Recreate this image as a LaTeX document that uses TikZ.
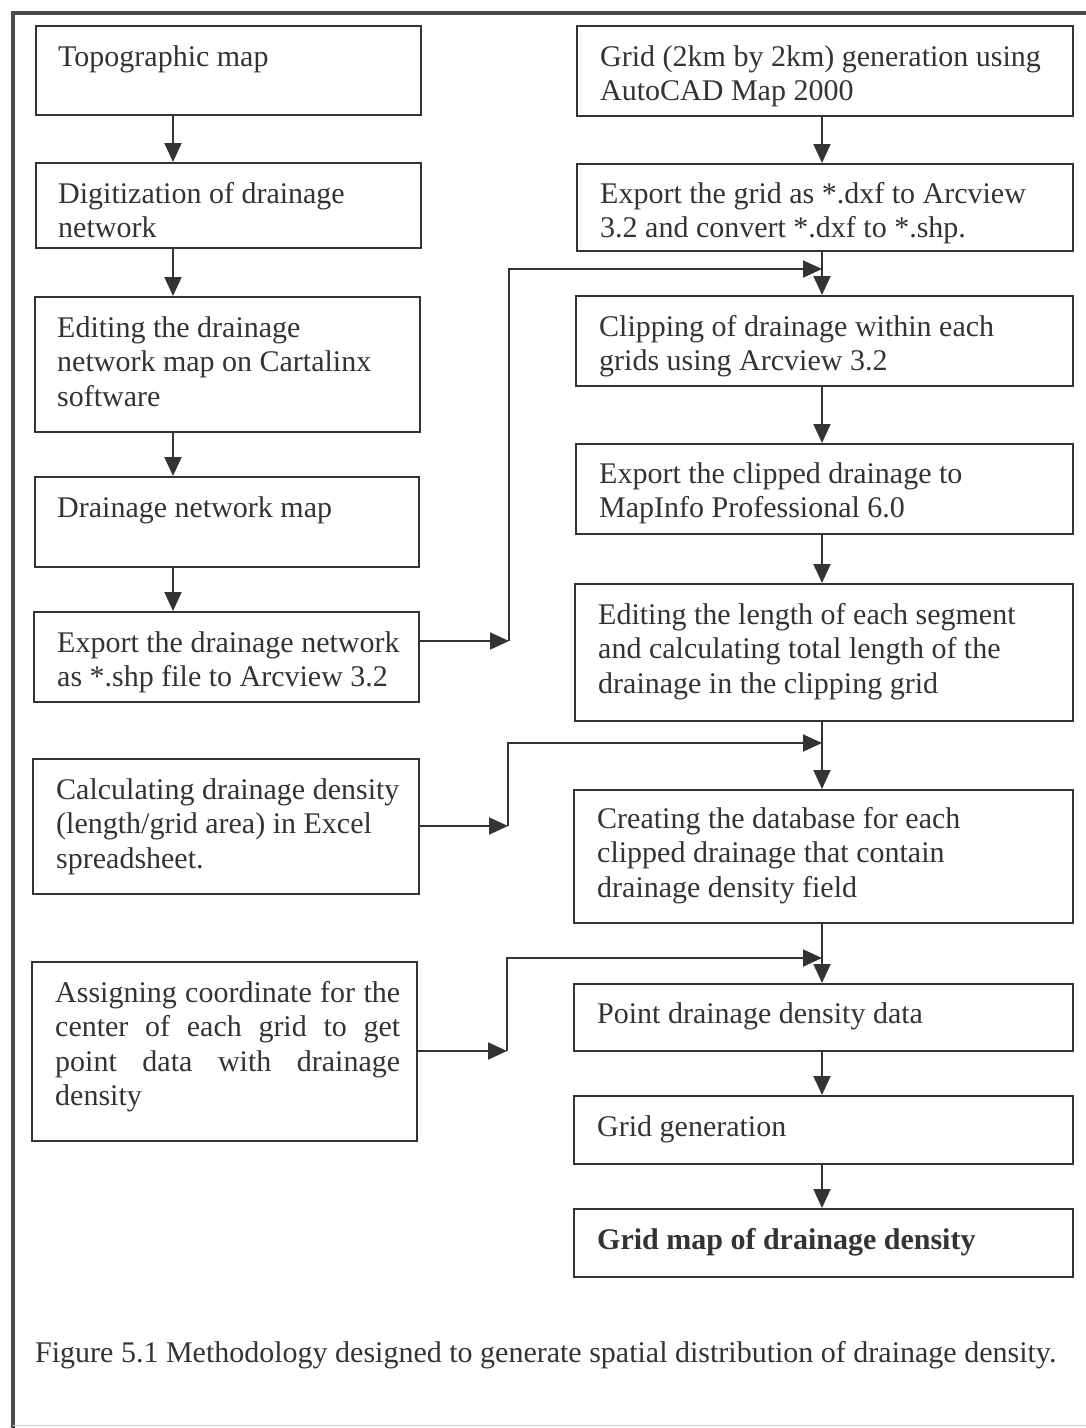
\documentclass[tikz,border=0pt]{standalone}
\usepackage{fontspec}
\setmainfont{Liberation Serif}
\usetikzlibrary{arrows.meta,calc}
\definecolor{ink}{HTML}{333333}
\definecolor{frame}{HTML}{4a4a4a}
\begin{document}
\begin{tikzpicture}[x=1pt,y=-1pt,
  box/.style={draw=ink, line width=1.9pt, rectangle, inner sep=0pt, anchor=north west},
  txt/.style={anchor=north west, inner sep=0pt, align=left, text=ink, font=\fontsize{30}{34.5}\selectfont},
  arr/.style={draw=ink, line width=1.9pt, -{Triangle[length=19pt,width=17pt]}},
  ln/.style={draw=ink, line width=1.9pt}]
\useasboundingbox (0,0) rectangle (1086,1428);
% outer frame
\draw[frame, line width=4.5pt] (13,1428) -- (13,13) -- (1086,13);
\draw[gray!40, line width=1pt] (13,1425) -- (1086,1425);

% left column boxes
\node[box, minimum width=385pt, minimum height=89pt]  (L1) at (35,25)  {};
\node[box, minimum width=385pt, minimum height=85pt]  (L2) at (35,162) {};
\node[box, minimum width=385pt, minimum height=135pt] (L3) at (34,296) {};
\node[box, minimum width=384pt, minimum height=90pt]  (L4) at (34,476) {};
\node[box, minimum width=385pt, minimum height=90pt]  (L5) at (33,611) {};
\node[box, minimum width=386pt, minimum height=135pt] (L6) at (32,758) {};
\node[box, minimum width=385pt, minimum height=179pt] (L7) at (31,961) {};

% right column boxes
\node[box, minimum width=496pt, minimum height=90pt]  (R1) at (576,25)   {};
\node[box, minimum width=496pt, minimum height=87pt]  (R2) at (576,163)  {};
\node[box, minimum width=497pt, minimum height=90pt]  (R3) at (575,295)  {};
\node[box, minimum width=497pt, minimum height=90pt]  (R4) at (575,443)  {};
\node[box, minimum width=498pt, minimum height=137pt] (R5) at (574,583)  {};
\node[box, minimum width=499pt, minimum height=133pt] (R6) at (573,789)  {};
\node[box, minimum width=499pt, minimum height=67pt]  (R7) at (573,983)  {};
\node[box, minimum width=499pt, minimum height=68pt]  (R8) at (573,1095) {};
\node[box, minimum width=499pt, minimum height=68pt]  (R9) at (573,1208) {};

% texts
\node[txt] (L1t) at ($(L1.north west)+(23,17)$) {\strut Topographic map};
\node[txt] (L2t) at ($(L2.north west)+(23,17)$) {\strut Digitization of drainage\\network};
\node[txt] (L3t) at ($(L3.north west)+(23,17)$) {\strut Editing the drainage\\network map on Cartalinx\\software};
\node[txt] (L4t) at ($(L4.north west)+(23,17)$) {\strut Drainage network map};
\node[txt] (L5t) at ($(L5.north west)+(24,17)$) {\strut Export the drainage network\\as *.shp file to Arcview 3.2};
\node[txt] (L6t) at ($(L6.north west)+(24,17)$) {\strut Calculating drainage density\\(length/grid area) in Excel\\spreadsheet.};
\node[txt] (L7t) at ($(L7.north west)+(24,17)$) {\strut\makebox[345pt][s]{Assigning coordinate for the}\\\makebox[345pt][s]{center of each grid to get}\\\makebox[345pt][s]{point data with drainage}\\density};

\node[txt] (R1t) at ($(R1.north west)+(24,17)$) {\strut Grid (2km by 2km) generation using\\AutoCAD Map 2000};
\node[txt] (R2t) at ($(R2.north west)+(24,16)$) {\strut Export the grid as *.dxf to Arcview\\3.2 and convert *.dxf to *.shp.};
\node[txt] (R3t) at ($(R3.north west)+(24,17)$) {\strut Clipping of drainage within each\\grids using Arcview 3.2};
\node[txt] (R4t) at ($(R4.north west)+(24,16)$) {\strut Export the clipped drainage to\\MapInfo Professional 6.0};
\node[txt] (R5t) at ($(R5.north west)+(24,17)$) {\strut Editing the length of each segment\\and calculating total length of the\\drainage in the clipping grid};
\node[txt] (R6t) at ($(R6.north west)+(24,15)$) {\strut Creating the database for each\\clipped drainage that contain\\drainage density field};
\node[txt] (R7t) at ($(R7.north west)+(24,16)$) {\strut Point drainage density data};
\node[txt] (R8t) at ($(R8.north west)+(24,17)$) {\strut Grid generation};
\node[txt] (R9t) at ($(R9.north west)+(24,17)$) {\strut\textbf{Grid map of drainage density}};

% caption
\node[txt, anchor=base west] (cap) at (35,1362) {Figure 5.1 Methodology designed to generate spatial distribution of drainage density.};

% arrow axes
\coordinate (ax) at (173,0);
\coordinate (bx) at (822,0);

% left column arrows
\draw[arr] (L1.south -| ax) -- (L2.north -| ax);
\draw[arr] (L2.south -| ax) -- (L3.north -| ax);
\draw[arr] (L3.south -| ax) -- (L4.north -| ax);
\draw[arr] (L4.south -| ax) -- (L5.north -| ax);

% right column arrows
\draw[arr] (R1.south -| bx) -- (R2.north -| bx);
\draw[arr] (R2.south -| bx) -- (R3.north -| bx);
\draw[arr] (R3.south -| bx) -- (R4.north -| bx);
\draw[arr] (R4.south -| bx) -- (R5.north -| bx);
\draw[arr] (R5.south -| bx) -- (R6.north -| bx);
\draw[arr] (R6.south -| bx) -- (R7.north -| bx);
\draw[arr] (R7.south -| bx) -- (R8.north -| bx);
\draw[arr] (R8.south -| bx) -- (R9.north -| bx);

% side connectors
\coordinate (j1) at (509,641);  \coordinate (k1) at (822,269);
\coordinate (j2) at (508,826);  \coordinate (k2) at (822,743);
\coordinate (j3) at (507,1051); \coordinate (k3) at (822,958);

\draw[arr] (L5.east |- j1) -- (j1);
\draw[arr] (j1) |- (k1);
\draw[arr] (L6.east |- j2) -- (j2);
\draw[arr] (j2) |- (k2);
\draw[arr] (L7.east |- j3) -- (j3);
\draw[arr] (j3) |- (k3);
\end{tikzpicture}
\end{document}
